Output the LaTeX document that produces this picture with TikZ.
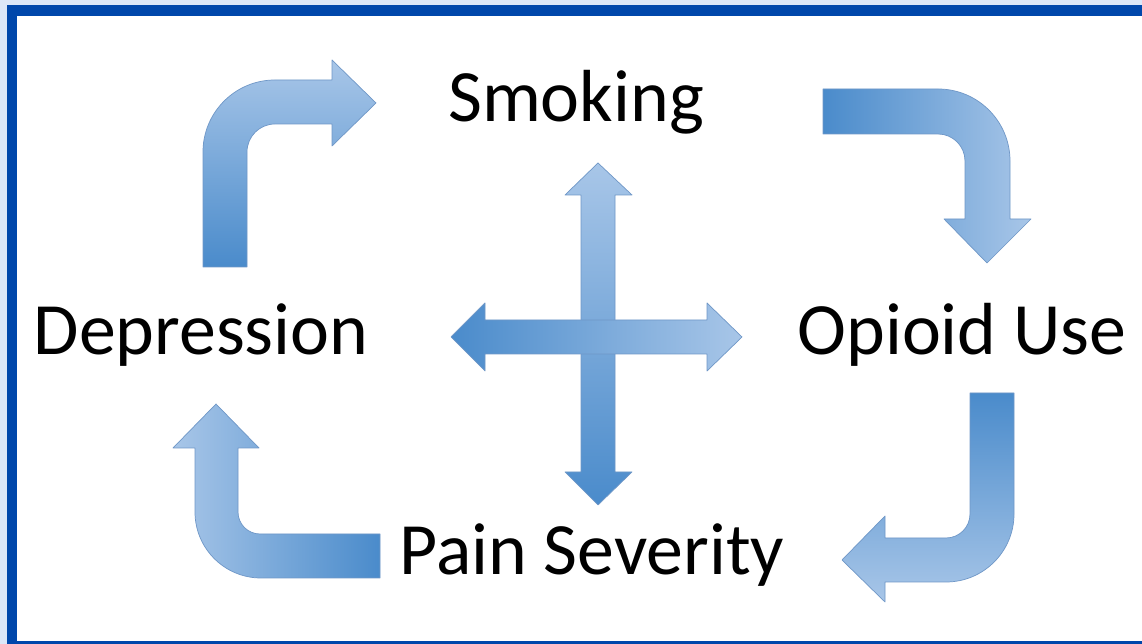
\documentclass[tikz,border=0pt]{standalone}
\usepackage{fontspec}
\setmainfont{Carlito}
\usepackage{tikz}

\definecolor{framebg}{HTML}{DCE7F8}
\definecolor{frameblue}{HTML}{0047AB}
\definecolor{arrlight}{HTML}{A8C6E8}
\definecolor{arrdark}{HTML}{4A8BCB}
\definecolor{arrline}{HTML}{6F97C7}

\tikzset{
  blockarrow/.style={draw=arrline, line width=0.4pt, line join=round},
  label/.style={font=\fontsize{42}{50}\selectfont, inner sep=0pt, anchor=base}
}

\begin{document}
\begin{tikzpicture}[x=0.02cm,y=0.02cm]

	\useasboundingbox (0,0) rectangle (1142,644);

	%frame
	\fill[framebg] (0,0) rectangle (1142,644);
	\fill[frameblue] (7,-5) rectangle (1150,639);
	\fill[white] (17,3) rectangle (1150,628);

	%labels
	\node[label] (smoking) at (576,522) {Smoking};
	\node[label] (depression) at (201,289) {Depression};
	\node[label] (opioid) at (962,289) {Opioid Use};
	\node[label] (pain) at (592,69) {Pain Severity};

	%Depression to Smoking
	\draw[blockarrow, top color=arrlight, bottom color=arrdark]
		(203,377) -- (203,492) arc[start angle=180, end angle=90, radius=72]
		-- (332,564) -- (332,584) -- (376,541) -- (332,498) -- (332,520)
		-- (275,520) arc[start angle=90, end angle=180, radius=28]
		-- (247,377) -- cycle;

	%Smoking to Opioid Use
	\draw[blockarrow, left color=arrdark, right color=arrlight]
		(823,555) -- (938,555) arc[start angle=90, end angle=0, radius=72]
		-- (1010,425) -- (1031,425) -- (987,381) -- (944,425) -- (965,425)
		-- (965,483) arc[start angle=0, end angle=90, radius=27]
		-- (823,510) -- cycle;

	%Opioid Use to Pain Severity
	\draw[blockarrow, top color=arrdark, bottom color=arrlight]
		(970,251) -- (1014,251) -- (1014,130) arc[start angle=0, end angle=-90, radius=68]
		-- (885,62) -- (885,42) -- (842,84) -- (885,128) -- (885,106)
		-- (946,106) arc[start angle=-90, end angle=0, radius=24]
		-- cycle;

	%Pain Severity to Depression
	\draw[blockarrow, left color=arrlight, right color=arrdark]
		(380,110) -- (380,66) -- (261,66) arc[start angle=-90, end angle=-180, radius=66]
		-- (195,196) -- (173,196) -- (216,240) -- (259,196) -- (238,196)
		-- (238,132) arc[start angle=180, end angle=270, radius=22]
		-- cycle;

	%cross, up and down
	\draw[blockarrow, top color=arrlight, bottom color=arrdark]
		(598,481) -- (632,449) -- (615,449) -- (615,172) -- (632,172) -- (598,139)
		-- (565,172) -- (581,172) -- (581,449) -- (565,449) -- cycle;

	%cross, left and right
	\draw[blockarrow, left color=arrdark, right color=arrlight]
		(451,307) -- (485,341) -- (485,324) -- (707,324) -- (707,341) -- (742,307)
		-- (707,273) -- (707,290) -- (485,290) -- (485,273) -- cycle;

\end{tikzpicture}
\end{document}
